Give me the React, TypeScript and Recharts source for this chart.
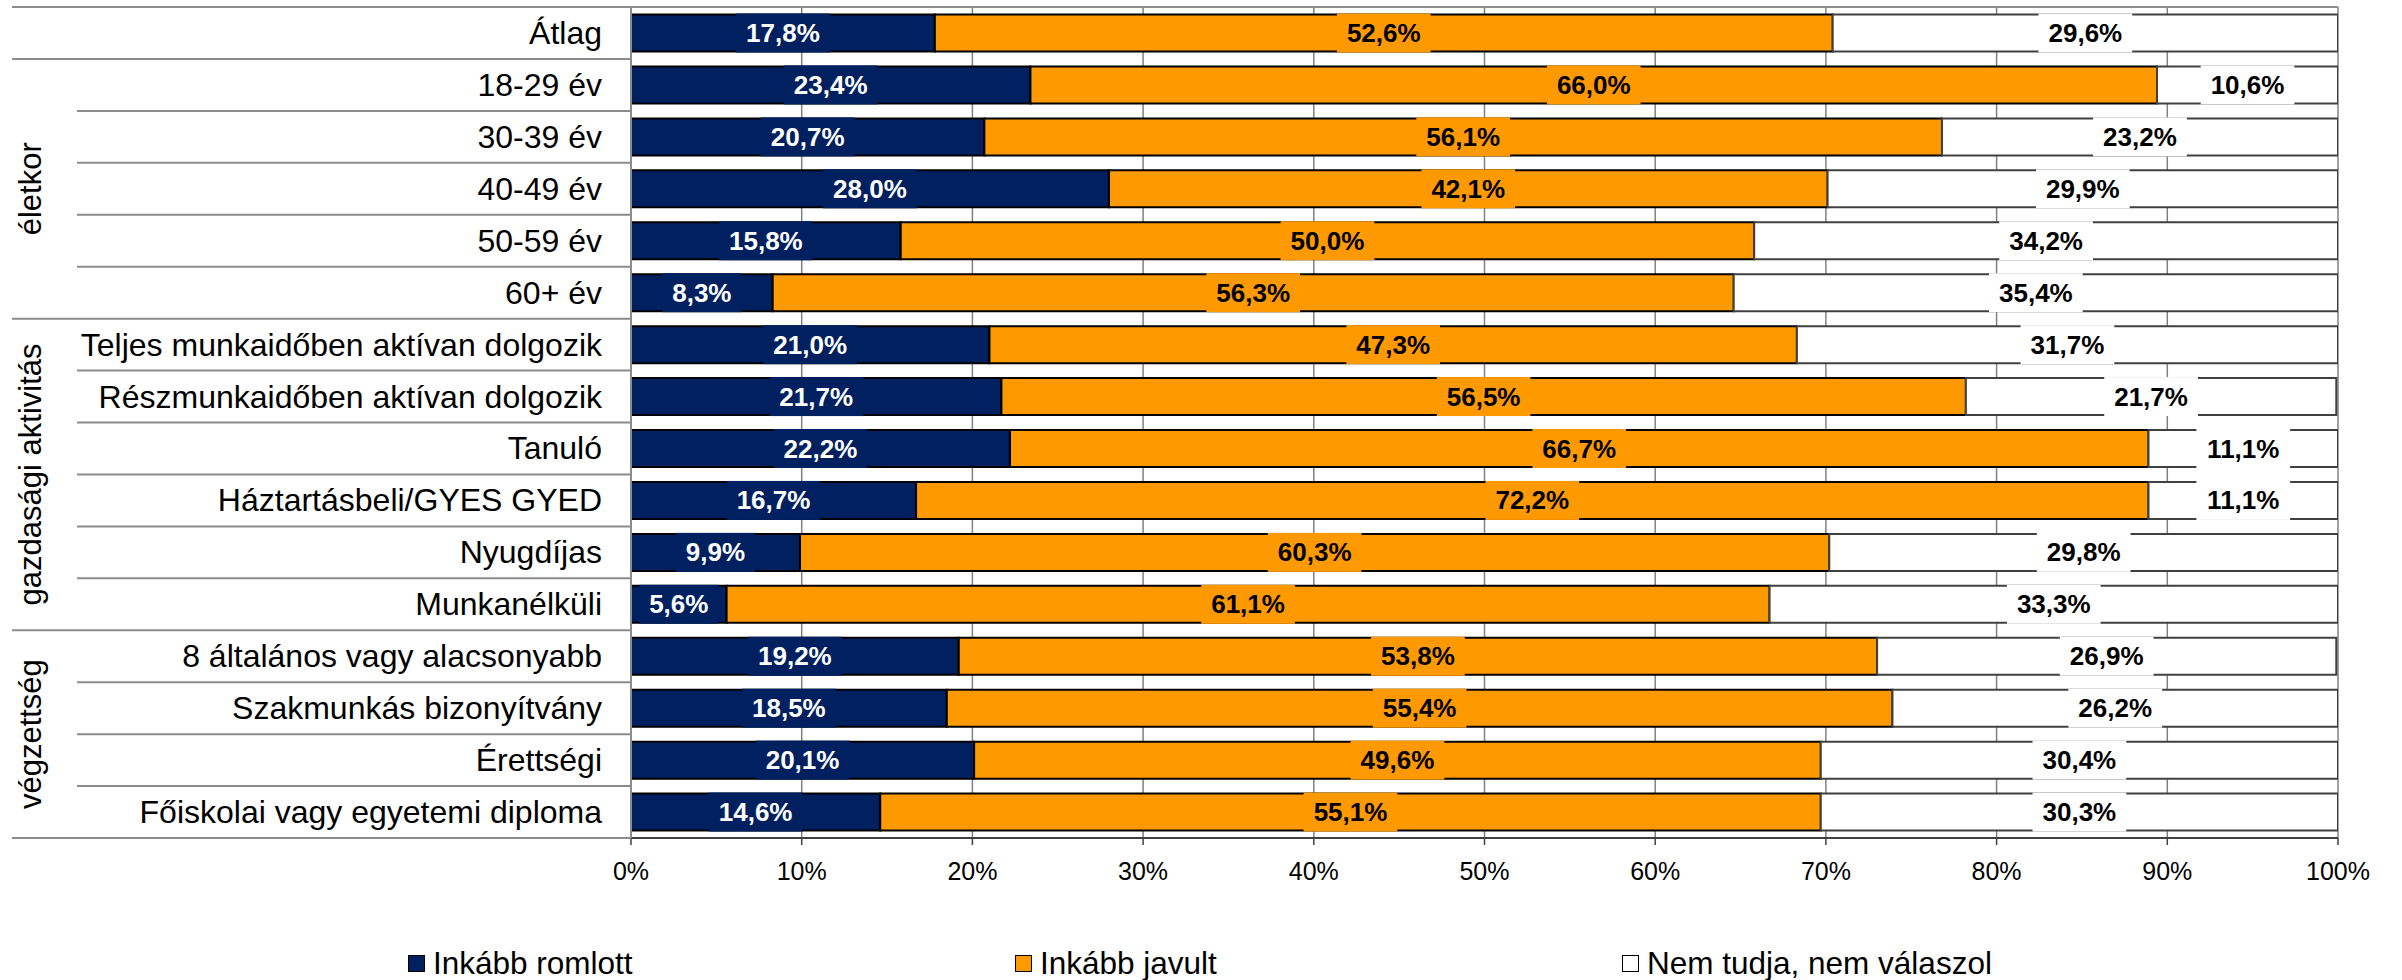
import { BarChart, Bar, XAxis, YAxis, CartesianGrid, LabelList, Legend } from 'recharts'

const categories = [
  'Átlag',
  '18-29 év',
  '30-39 év',
  '40-49 év',
  '50-59 év',
  '60+ év',
  'Teljes munkaidőben aktívan dolgozik',
  'Részmunkaidőben aktívan dolgozik',
  'Tanuló',
  'Háztartásbeli/GYES GYED',
  'Nyugdíjas',
  'Munkanélküli',
  '8 általános vagy alacsonyabb',
  'Szakmunkás bizonyítvány',
  'Érettségi',
  'Főiskolai vagy egyetemi diploma',
]

const romlott = [17.8, 23.4, 20.7, 28.0, 15.8, 8.3, 21.0, 21.7, 22.2, 16.7, 9.9, 5.6, 19.2, 18.5, 20.1, 14.6]
const javult = [52.6, 66.0, 56.1, 42.1, 50.0, 56.3, 47.3, 56.5, 66.7, 72.2, 60.3, 61.1, 53.8, 55.4, 49.6, 55.1]
const nemTudja = [29.6, 10.6, 23.2, 29.9, 34.2, 35.4, 31.7, 21.7, 11.1, 11.1, 29.8, 33.3, 26.9, 26.2, 30.4, 30.3]

const xTicks = [0, 10, 20, 30, 40, 50, 60, 70, 80, 90, 100]

// category groups on the left (index of first row, number of rows)
const groups = [
  { label: 'életkor', start: 1, count: 5 },
  { label: 'gazdasági aktivitás', start: 6, count: 6 },
  { label: 'végzettség', start: 12, count: 4 },
]

const series = [
  { key: 'romlott', name: 'Inkább romlott', fill: '#002060', stroke: '#000000', text: '#ffffff' },
  { key: 'javult', name: 'Inkább javult', fill: '#ff9900', stroke: '#000000', text: '#000000' },
  { key: 'nemTudja', name: 'Nem tudja, nem válaszol', fill: '#ffffff', stroke: '#404040', text: '#000000' },
]

const data = categories.map((name, i) => ({
  name,
  romlott: romlott[i],
  javult: javult[i],
  nemTudja: nemTudja[i],
}))

const W = 2402
const H = 980
const PLOT_LEFT = 631
const PLOT_RIGHT = 2338
const PLOT_TOP = 7
const PLOT_BOTTOM = 838
const ROW = (PLOT_BOTTOM - PLOT_TOP) / categories.length
const LINE = '#8c8c8c'
const FONT = '"Liberation Sans", Arial, sans-serif'

const fmt = (v: number) => `${v.toFixed(1).replace('.', ',')}%`

const charW: Record<string, number> = { ',': 0.278, '%': 0.889 }
const textWidth = (s: string, size: number) =>
  s.split('').reduce((a, c) => a + (charW[c] ?? 0.556), 0) * size

function makeLabel(fill: string, color: string) {
  return (props: any) => {
    const vb = props.viewBox ?? props
    const { x, y, width, height } = vb
    const label = fmt(Number(props.value))
    const w = textWidth(label, 26) + 20
    const cx = x + width / 2
    return (
      <g>
        <rect x={cx - w / 2} y={y - 1} width={w} height={height + 2} fill={fill} />
        <text
          x={cx}
          y={y + height / 2}
          textAnchor="middle"
          dominantBaseline="central"
          fontSize={26}
          fontWeight="bold"
          fontFamily={FONT}
          fill={color}
        >
          {label}
        </text>
      </g>
    )
  }
}

function CategoryTick(props: any) {
  const { y, payload, index } = props
  const top = y - ROW / 2
  const bottom = y + ROW / 2
  const outer = index === 0 || groups.some((g) => g.start + g.count - 1 === index)
  const group = groups.find((g) => g.start === index)
  return (
    <g>
      {index === 0 && (
        <line x1={12} x2={PLOT_RIGHT} y1={top} y2={top} stroke={LINE} strokeWidth={2} />
      )}
      <line x1={outer ? 12 : 77} x2={PLOT_LEFT} y1={bottom} y2={bottom} stroke={LINE} strokeWidth={2} />
      <text
        x={602}
        y={y}
        textAnchor="end"
        dominantBaseline="central"
        fontSize={32}
        fontFamily={FONT}
        fill="#000"
      >
        {payload.value}
      </text>
      {group && (
        <text
          transform={`translate(30, ${top + (group.count * ROW) / 2}) rotate(-90)`}
          textAnchor="middle"
          dominantBaseline="central"
          fontSize={31}
          fontFamily={FONT}
          fill="#000"
        >
          {group.label}
        </text>
      )}
    </g>
  )
}

function LegendContent() {
  return (
    <div style={{ display: 'flex', paddingLeft: 408, fontFamily: FONT, fontSize: 31.5, color: '#000' }}>
      {series.map((s) => (
        <div key={s.key} style={{ width: 607, display: 'flex', alignItems: 'center' }}>
          <span
            style={{
              width: 15,
              height: 15,
              background: s.fill,
              border: '1.5px solid #000',
              marginRight: 8,
              display: 'inline-block',
            }}
          />
          <span>{s.name}</span>
        </div>
      ))}
    </div>
  )
}

export default function App() {
  return (
    <div style={{ position: 'absolute', left: 0, top: 0, width: W, height: H, background: '#fff' }}>
      <BarChart
        width={W}
        height={H}
        data={data}
        layout="vertical"
        barCategoryGap={7.5}
        margin={{ top: PLOT_TOP, right: W - PLOT_RIGHT, bottom: H - PLOT_BOTTOM - 40, left: 0 }}
      >
        <CartesianGrid horizontal={false} stroke="#808080" strokeWidth={1.5} />
        <XAxis
          type="number"
          domain={[0, 100]}
          ticks={xTicks}
          allowDataOverflow
          height={40}
          tickFormatter={(v) => `${v}%`}
          axisLine={{ stroke: '#404040', strokeWidth: 2 }}
          tickLine={{ stroke: '#404040', strokeWidth: 1.5 }}
          tickSize={7}
          tickMargin={17}
          tick={{ fontSize: 25, fontFamily: FONT, fill: '#000' }}
        />
        <YAxis
          type="category"
          dataKey="name"
          width={PLOT_LEFT}
          axisLine={{ stroke: LINE, strokeWidth: 2 }}
          tickLine={false}
          interval={0}
          tick={<CategoryTick />}
        />
        <Legend
          layout="horizontal"
          verticalAlign="middle"
          align="center"
          content={<LegendContent />}
          wrapperStyle={{ top: 945, left: 0, width: W, height: 36 }}
        />
        {series.map((s) => (
          <Bar
            key={s.key}
            dataKey={s.key}
            name={s.name}
            stackId="a"
            fill={s.fill}
            stroke={s.stroke}
            strokeWidth={2}
            isAnimationActive={false}
          >
            <LabelList dataKey={s.key} content={makeLabel(s.fill, s.text)} />
          </Bar>
        ))}
      </BarChart>
    </div>
  )
}
